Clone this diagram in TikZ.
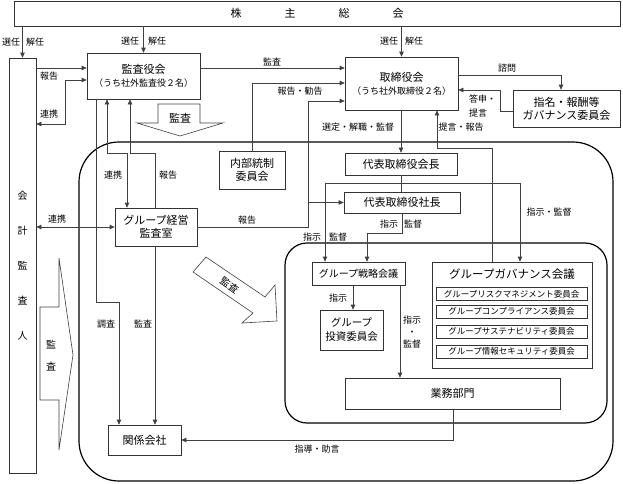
\documentclass[tikz,border=0pt]{standalone}
\usepackage{fontspec}
\setmainfont{Noto Sans CJK JP}
\usetikzlibrary{arrows.meta}
\begin{document}
\begin{tikzpicture}[x=1pt,y=-1pt,
  box/.style={draw=black!80,line width=0.7pt,fill=white,inner sep=0pt,align=center,font=\fontsize{11}{13}\selectfont},
  sbox/.style={box,font=\fontsize{8.5}{10}\selectfont},
  lbl/.style={inner sep=0pt,font=\fontsize{9}{12}\selectfont},
  con/.style={draw=black!75,line width=0.7pt},
  arr/.style={con,-{Triangle[length=5pt,width=4.5pt]}},
  darr/.style={con,{Triangle[length=5pt,width=4.5pt]}-{Triangle[length=5pt,width=4.5pt]}},
  rarr/.style={con,{Triangle[length=5pt,width=4.5pt]}-},
  orgframe/.style={draw=black,line width=1.2pt},
  blk/.style={draw=black!75,line width=0.6pt,fill=white,line join=miter}
]
\useasboundingbox (0,0) rectangle (623,483);

% frames
\draw[orgframe,rounded corners=40pt] (79,142) rectangle (613,481);
\draw[orgframe,rounded corners=22pt] (285,243) rectangle (607,423);

% boxes
\node[box,minimum width=606pt,minimum height=25pt] (kabu) at (317,13.5) {株\hspace{43pt}主\hspace{43pt}総\hspace{43pt}会};
\node[box,minimum width=27pt,minimum height=415pt,font=\fontsize{10}{35}\selectfont] (kaikei) at (22.5,265.5) {会\\計\\監\\査\\人};
\node[box,minimum width=113pt,minimum height=46pt] (kansa) at (143.5,76) {監査役会\\{\fontsize{9}{13}\selectfont （うち社外監査役２名）}};
\node[box,minimum width=113pt,minimum height=53pt] (tori) at (401.5,83.5) {取締役会\\{\fontsize{9}{13}\selectfont （うち社外取締役２名）}};
\node[box,minimum width=107pt,minimum height=37pt] (shimei) at (566.5,108.5) {指名・報酬等\\ガバナンス委員会};
\node[box,minimum width=66pt,minimum height=38pt] (naibu) at (252,170) {内部統制\\委員会};
\node[box,minimum width=112pt,minimum height=22pt] (kaicho) at (401,164) {代表取締役会長};
\node[box,minimum width=116pt,minimum height=21pt] (shacho) at (402,202.5) {代表取締役社長};
\node[box,minimum width=82pt,minimum height=38pt] (keiei) at (156,227) {グループ経営\\監査室};
\node[box,minimum width=93pt,minimum height=23pt,font=\fontsize{10}{12}\selectfont] (senryaku) at (358.5,273.5) {グループ戦略会議};
\node[box,minimum width=160pt,minimum height=106pt] (gov) at (512,315) {};
\node[inner sep=0pt,font=\fontsize{11.5}{13}\selectfont] (govt) at (512,274) {グループガバナンス会議};
\node[sbox,minimum width=151pt,minimum height=13pt] (c1) at (511.5,294) {グループリスクマネジメント委員会};
\node[sbox,minimum width=151pt,minimum height=13pt] (c2) at (511.5,311.5) {グループコンプライアンス委員会};
\node[sbox,minimum width=151pt,minimum height=13pt] (c3) at (511.5,331.5) {グループサステナビリティ委員会};
\node[sbox,minimum width=151pt,minimum height=13pt] (c4) at (511.5,351.5) {グループ情報セキュリティ委員会};
\node[box,minimum width=63pt,minimum height=40pt,font=\fontsize{10.5}{14}\selectfont] (toushi) at (351.5,330) {グループ\\投資委員会};
\node[box,minimum width=215pt,minimum height=31pt] (gyomu) at (452.5,393.5) {業務部門};
\node[box,minimum width=73pt,minimum height=30pt] (kankei) at (144.5,440) {関係会社};

% connectors from shareholders
\draw[arr] (kabu.south -| kaikei.north) -- (kaikei.north);
\draw[arr] (kabu.south -| kansa.north) -- (kansa.north);
\draw[arr] (kabu.south -| tori.north) -- (tori.north);

% audit board / board
\draw[arr] (kansa.east |- 0,68) -- (tori.west |- 0,68);
\draw[arr] (naibu.north) -- (naibu.north |- 0,83) -- (tori.west |- 0,83);
\draw[arr] (keiei.east) -- (keiei.east -| 308,0) -- (308,101) -- (tori.west |- 0,101);
\draw[arr] (keiei.east -| 308,0) |- (shacho.west);

% board downwards
\draw[arr] (tori.south -| kaicho.north) -- (kaicho.north);
\draw[arr] (gov.north -| 492,0) -- (492,148) -- (437,148) -- (tori.south -| 437,0);
\draw[con] (kaicho.south) -- (shacho.north -| kaicho.south);
\draw[con] (325,183) -- (520,183);
\draw[arr] (325,183) -- (senryaku.north -| 325,0);
\draw[arr] (520,183) -- (gov.north -| 520,0);
\draw[arr] (shacho.south) -- (402,233) -- (367,233) -- (senryaku.north -| 367,0);
\draw[arr] (senryaku.south -| 353,0) -- (toushi.north -| 353,0);
\draw[arr] (senryaku.south -| 400,0) -- (gyomu.north -| 400,0);
\draw[arr] (gyomu.south -| 453,0) -- (453,440) -- (kankei.east);

% nomination committee
\draw[arr] (tori.east |- 0,75) -- (561,75) -- (shimei.north -| 561,0);
\draw[arr] (shimei.west |- 0,111) -- (500,111) -- (500,90) -- (tori.east |- 0,90);

% accounting auditor
\draw[arr] (kaikei.east |- 0,68) -- (kansa.west |- 0,68);
\draw[darr] (kaikei.east |- 0,124) -- (65,124) -- (65,80) -- (kansa.west |- 0,80);
\draw[darr] (kaikei.east |- keiei.west) -- (keiei.west);

% audit board downwards
\draw[arr] (kansa.south -| 96,0) -- (96,302) -- (119,302) -- (kankei.north -| 119,0);
\draw[darr] (kansa.south -| 107,0) -- (107,153) -- (127,153) -- (keiei.north -| 127,0);
\draw[rarr] (kansa.south -| 130,0) -- (130,153) -- (155,153) -- (keiei.north -| 155,0);
\draw[arr] (keiei.south -| 155,0) -- (kankei.north -| 155,0);

% block arrows
\draw[blk] (158,104) -- (200,104) -- (200,123) -- (223,123) -- (180,136) -- (137,123) -- (158,123) -- cycle;
\node[inner sep=0pt,font=\fontsize{11}{12}\selectfont] (b1) at (180,118) {監査};
\draw[blk] (193,272) -- (206,257) -- (265,297) -- (275,285) -- (277,321) -- (242,323) -- (253,313) -- cycle;
\node[inner sep=0pt,font=\fontsize{10}{11}\selectfont,rotate=-35] (b2) at (229.5,285.5) {監査};
\draw[blk] (40,307) -- (59,307) -- (59,258) -- (73,355) -- (59,450) -- (59,400) -- (40,400) -- cycle;
\node[inner sep=0pt,align=center,font=\fontsize{10}{22}\selectfont] (b3) at (51,356) {監\\査};

% labels
\node[lbl] (l1) at (11,42) {選任};
\node[lbl] (l2) at (35,42) {解任};
\node[lbl] (l3) at (130,41) {選任};
\node[lbl] (l4) at (157,41) {解任};
\node[lbl] (l5) at (389,41) {選任};
\node[lbl] (l6) at (414,41) {解任};
\node[lbl] (l7) at (272,62) {監査};
\node[lbl] (l8) at (300,91) {報告・勧告};
\node[lbl] (l9) at (49,76) {報告};
\node[lbl] (l10) at (49,114) {連携};
\node[lbl] (l11) at (57,219) {連携};
\node[lbl] (l12) at (113,175) {連携};
\node[lbl] (l13) at (168,175) {報告};
\node[lbl] (l14) at (247,220) {報告};
\node[lbl] (l15) at (358,127) {選定・解職・監督};
\node[lbl] (l16) at (461,127) {提言・報告};
\node[lbl] (l17) at (507,68) {諮問};
\node[lbl,anchor=west] (l18) at (469,99) {答申・};
\node[lbl,anchor=west] (l19) at (469,113) {提言};
\node[lbl] (l20) at (549,212) {指示・監督};
\node[lbl] (l21) at (312,237) {指示};
\node[lbl] (l22) at (338,237) {監督};
\node[lbl] (l23) at (389,224) {指示};
\node[lbl] (l24) at (413,224) {監督};
\node[lbl] (l25) at (338,298) {指示};
\node[lbl,align=center] (l26) at (412,332) {指示\\・\\監督};
\node[lbl] (l27) at (317,449) {指導・助言};
\node[lbl] (l28) at (106,324) {調査};
\node[lbl] (l29) at (143,324) {監査};
\end{tikzpicture}
\end{document}
